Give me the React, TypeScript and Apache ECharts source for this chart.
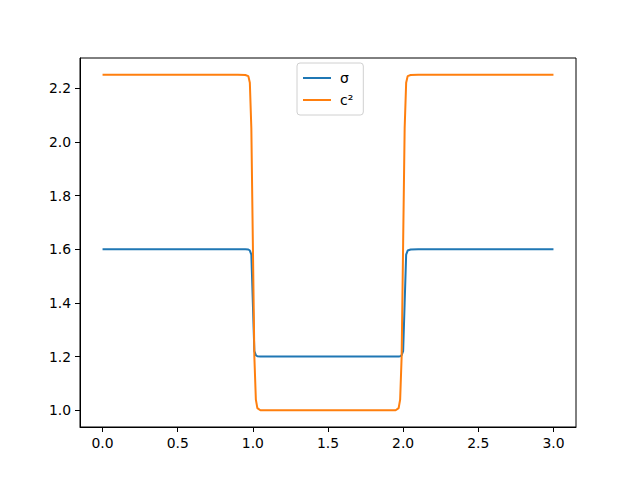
import React, { useEffect, useRef } from "react";
import * as echarts from "echarts";

const xs = [0, 0.5, 0.9, 0.95, 0.97, 0.98, 0.99, 1.0, 1.01, 1.02, 1.03, 1.05, 1.1, 1.5, 1.9, 1.95, 1.97, 1.98, 1.99, 2.0, 2.01, 2.02, 2.03, 2.05, 2.1, 2.5, 3.0];
const sigma = [1.6, 1.6, 1.6, 1.6, 1.599, 1.595, 1.58, 1.4, 1.22, 1.205, 1.201, 1.2, 1.2, 1.2, 1.2, 1.2, 1.2, 1.201, 1.205, 1.22, 1.4, 1.58, 1.595, 1.599, 1.6, 1.6, 1.6];
const c2 = [2.25, 2.25, 2.25, 2.249, 2.245, 2.22, 2.05, 1.625, 1.2, 1.04, 1.008, 1.0, 1.0, 1.0, 1.0, 1.0, 1.008, 1.04, 1.2, 1.625, 2.05, 2.22, 2.245, 2.249, 2.25, 2.25, 2.25];
const xTicks = [0, 0.5, 1.0, 1.5, 2.0, 2.5, 3.0];
const yTicks = [1.0, 1.2, 1.4, 1.6, 1.8, 2.0, 2.2];
const names = ["σ", "c²"];

export default function App() {
  const ref = useRef<HTMLDivElement>(null);
  useEffect(() => {
    const chart = echarts.init(ref.current!, null, { renderer: "svg" });
    const font = "DejaVu Sans";
    chart.setOption({
      animation: false,
      backgroundColor: "#ffffff",
      textStyle: { fontFamily: font },
      grid: { left: 80, right: 64, top: 58, bottom: 53, show: true, borderColor: "#000", borderWidth: 1, containLabel: false },
      legend: {
        orient: "vertical",
        left: 297,
        top: 63,
        padding: [7, 10, 7, 6],
        icon: "rect",
        itemWidth: 28,
        itemHeight: 2,
        itemGap: 6,
        borderColor: "#d0d0d0",
        borderWidth: 1,
        borderRadius: 3,
        backgroundColor: "rgba(255,255,255,0.8)",
        textStyle: { fontFamily: font, fontSize: 14, color: "#000", padding: [0, 0, 0, 4], lineHeight: 16 },
        data: names,
      },
      xAxis: {
        type: "value",
        min: -0.15,
        max: 3.15,
        axisLine: { show: true, onZero: false, lineStyle: { color: "#000", width: 1 } },
        axisTick: { show: true, length: 5, lineStyle: { color: "#000" }, customValues: xTicks },
        axisLabel: { customValues: xTicks, color: "#000", fontSize: 13.9, fontFamily: font, margin: 9, formatter: (v: number) => v.toFixed(1) },
        splitLine: { show: false },
      },
      yAxis: {
        type: "value",
        min: 0.9375,
        max: 2.3125,
        axisLine: { show: true, onZero: false, lineStyle: { color: "#000", width: 1 } },
        axisTick: { show: true, length: 5, lineStyle: { color: "#000" }, customValues: yTicks },
        axisLabel: { customValues: yTicks, color: "#000", fontSize: 13.9, fontFamily: font, margin: 9, formatter: (v: number) => v.toFixed(1) },
        splitLine: { show: false },
      },
      series: [
        { name: names[0], type: "line", symbol: "none", data: xs.map((x, i) => [x, sigma[i]]), lineStyle: { color: "#1f77b4", width: 2 }, itemStyle: { color: "#1f77b4" } },
        { name: names[1], type: "line", symbol: "none", data: xs.map((x, i) => [x, c2[i]]), lineStyle: { color: "#ff7f0e", width: 2 }, itemStyle: { color: "#ff7f0e" } },
      ],
    });
    return () => chart.dispose();
  }, []);
  return <div ref={ref} style={{ position: "fixed", left: 0, top: 0, width: 640, height: 480 }} />;
}
